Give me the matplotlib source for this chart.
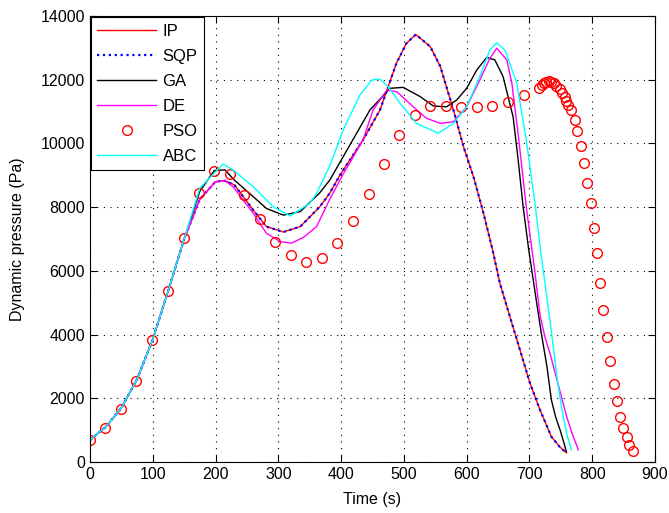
import matplotlib.pyplot as plt

plt.rcParams['font.family'] = ['Liberation Sans', 'DejaVu Sans']
plt.rcParams['font.size'] = 11

# IP (interior point)
ip_t = [0, 25, 50, 75, 100, 125, 150, 175, 200, 215, 230, 260, 281, 308, 335, 366, 382, 398,
        435, 462, 488, 504, 519, 542, 558, 579, 595, 611, 627, 642, 653, 669, 685, 701, 717,
        735, 748, 759]
ip_p = [690, 1100, 1700, 2600, 3850, 5400, 7000, 8250, 8800, 8830, 8700, 7910, 7390, 7220,
        7390, 8010, 8440, 9000, 10110, 11050, 12510, 13140, 13420, 13040, 12420, 11050, 9900,
        8950, 7800, 6600, 5610, 4560, 3515, 2470, 1630, 795, 480, 290]

# SQP gives the same trajectory as IP
sqp_t = list(ip_t)
sqp_p = list(ip_p)

ga_t = [0, 25, 50, 75, 100, 125, 150, 175, 198, 215, 230, 260, 281, 308, 335, 366, 382, 398,
        414, 446, 478, 499, 526, 547, 568, 584, 600, 616, 632, 645, 658, 674, 682, 690, 699,
        710, 719, 728, 735, 742, 749, 755, 759]
ga_p = [690, 1100, 1700, 2600, 3850, 5400, 7000, 8500, 9150, 9170, 8850, 8330, 7960, 7750,
        7860, 8450, 8850, 9400, 9950, 11050, 11730, 11760, 11470, 11175, 11150, 11360, 11730,
        12300, 12700, 12620, 12100, 10840, 9500, 8014, 6650, 5200, 4040, 2990, 1950, 1400,
        1000, 600, 320]

de_t = [0, 25, 50, 75, 100, 125, 150, 175, 200, 215, 228, 260, 281, 303, 321, 340, 361, 382,
        404, 435, 451, 473, 489, 515, 536, 558, 579, 600, 621, 637, 648, 664, 672, 682, 695,
        709, 717, 725, 733, 749, 759, 768, 778]
de_p = [690, 1100, 1700, 2600, 3850, 5400, 7000, 8250, 8800, 8830, 8640, 7810, 7180, 6920,
        6870, 7050, 7390, 8250, 9060, 10110, 11050, 11680, 11620, 11150, 10790, 10630, 10680,
        11150, 11990, 12670, 12990, 12620, 11900, 10300, 8014, 5925, 4600, 3900, 3400, 2200,
        1450, 900, 380]

abc_t = [0, 25, 50, 75, 100, 125, 150, 175, 212, 228, 260, 292, 319, 350, 361, 382, 404, 430,
         449, 462, 475, 494, 520, 555, 579, 600, 621, 637, 648, 661, 680, 695, 709, 718, 727,
         735, 743, 749, 754, 760, 767]
abc_p = [690, 1100, 1700, 2600, 3850, 5400, 7000, 8600, 9350, 9170, 8640, 8010, 7720, 8120,
         8430, 9300, 10450, 11520, 11990, 12020, 11780, 11260, 10630, 10320, 10630, 11150,
         12100, 12930, 13160, 12930, 11890, 10107, 8100, 6600, 5300, 4100, 2800, 2000, 1420,
         850, 380]

pso_t = [0, 24, 49, 73, 99, 124, 150, 174, 198, 223, 245, 271, 295, 320, 344, 369, 393, 419,
         444, 468, 492, 518, 542, 567, 591, 616, 641, 666, 691, 716, 720, 724, 727, 732, 735,
         739, 743, 748, 752, 756, 759, 762, 766, 773, 776, 782, 787, 792, 798, 803, 807, 813,
         818, 824, 828, 835, 839, 844, 849, 855, 859, 865]
pso_p = [690, 1070, 1660, 2540, 3830, 5370, 7030, 8440, 9130, 9040, 8380, 7630, 6900, 6500,
         6280, 6400, 6870, 7560, 8400, 9350, 10260, 10890, 11175, 11175, 11150, 11150, 11175,
         11310, 11510, 11730, 11834, 11887, 11928, 11960, 11928, 11887, 11802, 11700, 11594,
         11468, 11343, 11206, 11050, 10735, 10380, 9919, 9376, 8768, 8120, 7356, 6551, 5630,
         4760, 3914, 3170, 2460, 1910, 1420, 1057, 775, 524, 355]

fig = plt.figure(figsize=(6.69, 5.13), dpi=100)
ax = fig.add_axes([0.1345, 0.0994, 0.8445, 0.8694])

ax.plot(ip_t, ip_p, '-', color='red', lw=1.0, label='IP')
ax.plot(sqp_t, sqp_p, ':', color='blue', lw=1.6, label='SQP')
ax.plot(ga_t, ga_p, '-', color='black', lw=1.0, label='GA')
ax.plot(de_t, de_p, '-', color='magenta', lw=1.0, label='DE')
ax.plot(pso_t, pso_p, 'o', color='red', mfc='none', ms=7, mew=1.0, label='PSO')
ax.plot(abc_t, abc_p, '-', color='cyan', lw=1.0, label='ABC')

ax.set_xlim(0, 900)
ax.set_ylim(0, 14000)
ax.set_xticks(range(0, 901, 100))
ax.set_yticks(range(0, 14001, 2000))
ax.grid(True, color='black', linestyle=(0, (1, 5)), linewidth=0.8)
ax.tick_params(direction='in', top=True, right=True, length=5, width=0.8, labelsize=11.5)
for s in ax.spines.values():
    s.set_linewidth(0.8)

ax.set_xlabel('Time (s)', fontsize=11.5, labelpad=7)
ax.set_ylabel('Dynamic pressure (Pa)', fontsize=11.5, labelpad=11)

leg = ax.legend(loc='upper left', borderaxespad=0.05, fancybox=False, framealpha=1,
                edgecolor='black', handlelength=3.5, handletextpad=0.4, labelspacing=0.6,
                borderpad=0.4, fontsize=12)
leg.get_frame().set_linewidth(0.8)

fig.savefig('out.png', dpi=100)
